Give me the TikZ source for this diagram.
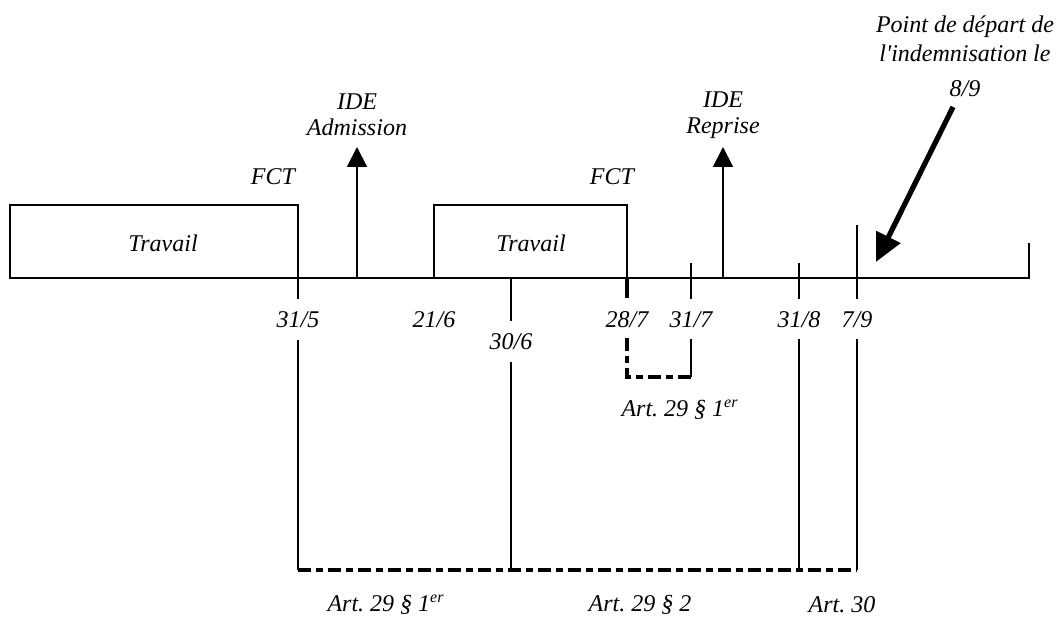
\documentclass[tikz,border=0pt]{standalone}
\usepackage{fontspec}
\setmainfont{Liberation Serif}
\newfontfamily\lblfont{Liberation Serif}
\usetikzlibrary{arrows.meta,positioning}

\begin{document}
\begin{tikzpicture}[
            x=0.5pt, y=-0.5pt,
            lbl/.style={font=\lblfont\itshape\fontsize{12}{13}\selectfont, inner sep=1pt},
            thin line/.style={line width=1pt},
            thick dash/.style={line width=1.9pt, dash pattern=on 6.5pt off 2.5pt on 3.5pt off 2.5pt},
            idearrow/.style={line width=1pt, -{Triangle[width=10pt,length=10pt]}},
        ]
            \useasboundingbox (0,0) rectangle (1061,642);

            % time axis
            \coordinate (start) at (10,278);
            \coordinate (end) at (1029,278);
            \draw[thin line] (start) -- (end) -- ++(0,-35);

            % periods of work
            \draw[thin line] (start) rectangle (298,205);
            \node[lbl] (work1) at (163,243) {Travail};
            \draw[thin line] (434,278) rectangle (627,205);
            \node[lbl] (work2) at (531,243) {Travail};
            \node[lbl] (fct1) at (273,177) {FCT};
            \node[lbl] (fct2) at (612,177) {FCT};

            % IDE arrows
            \coordinate (adm) at (357,278);
            \node[lbl, align=center] (admtxt) at (357,115) {IDE\\Admission};
            \draw[idearrow] (adm) -- ++(0,-131);
            \coordinate (rep) at (723,278);
            \node[lbl, align=center] (reptxt) at (723,115) {IDE\\Reprise};
            \draw[idearrow] (rep) -- ++(0,-131);

            % dates
            \node[lbl] (d315) at (298,320) {31/5};
            \node[lbl] (d216) at (434,320) {21/6};
            \node[lbl] (d306) at (511,342) {30/6};
            \node[lbl] (d287) at (627,320) {28/7};
            \node[lbl] (d317) at (691,320) {31/7};
            \node[lbl] (d318) at (799,320) {31/8};
            \node[lbl] (d79) at (857,320) {7/9};

            % ticks on the axis
            \draw[thin line] (298,278) -- (298,299);
            \draw[thin line] (511,278) -- (511,321);
            \draw[line width=1.9pt] (627,278) -- (627,298);
            \draw[thin line] (691,263) -- (691,299);
            \draw[thin line] (799,263) -- (799,299);
            \draw[thin line] (857,225) -- (857,299);

            % periods below
            \coordinate (b315) at (298,570);
            \coordinate (b306) at (511,570);
            \coordinate (b318) at (799,570);
            \coordinate (b79) at (857,570);
            \coordinate (s287) at (627,377);
            \coordinate (s317) at (691,377);
            \draw[thin line] (298,340) -- (b315);
            \draw[thin line] (511,362) -- (b306);
            \draw[thin line] (799,339) -- (b318);
            \draw[thin line] (857,339) -- (b79);
            \draw[thin line] (691,339) -- (s317);
            \draw[thick dash] (627,338) -- (s287) -- (s317);
            \draw[thick dash] (b315) -- (b79);

            \node[lbl] (art1a) at (680,410) {Art.\ 29 \S\ 1\textsuperscript{er}};
            \node[lbl] (art1b) at (386,605) {Art.\ 29 \S\ 1\textsuperscript{er}};
            \node[lbl] (art2) at (640,605) {Art.\ 29 \S\ 2};
            \node[lbl] (art30) at (842,605) {Art.\ 30};

            % start of compensation
            \node[lbl, align=center] (startcomp) at (965,56) {Point de départ de\\[1.5pt]l\textquotesingle indemnisation le\\[4.5pt]8/9};
            \draw[line width=2.6pt, -{Triangle[width=13pt,length=14pt]}] (953,107) -- (876,262);

        \end{tikzpicture}
\end{document}
